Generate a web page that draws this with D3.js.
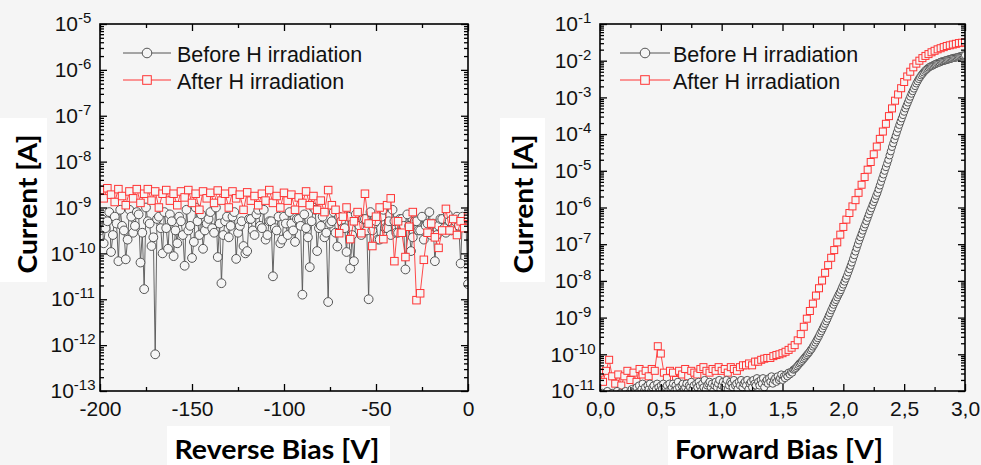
<!DOCTYPE html>
<html><head><meta charset="utf-8">
<script src="https://cdn.jsdelivr.net/npm/d3@7"></script>
<style>
html,body{margin:0;padding:0;background:#f5f5f5;}
svg{display:block;}
</style></head><body>
<svg id="chart" width="981" height="465"></svg>
<script>
// ---------------- DATA ----------------
const seriesNames = ["Before H irradiation", "After H irradiation"];

// Reverse bias sweeps (V) and log10 of current [A]
const revBiasBefore = d3.range(-200, 0.5, 1);
const revBeforeLog = [
  -9.5,-9.25,-9.78,-9.45,-9.3,-9.1,-9.97,-9.6,-9.2,-9.35,
  -10.17,-9.05,-9.4,-9.5,-10.13,-9.7,-9.05,-9.2,-9.55,-9.4,
  -9.1,-9.15,-10.2,-9.55,-10.78,-9.0,-9.3,-9.35,-9.84,-9.65,
  -12.2,-9.25,-9.2,-9.45,-10.0,-9.1,-9.45,-9.9,-9.15,-9.3,
  -10.06,-9.5,-9.78,-9.2,-9.3,-9.6,-10.27,-9.05,-9.5,-9.4,
  -10.1,-9.75,-9.0,-9.3,-9.6,-9.15,-9.9,-9.5,-9.35,-9.25,
  -9.1,-9.45,-9.55,-9.0,-10.08,-9.35,-10.65,-9.6,-9.3,-9.2,
  -9.65,-9.4,-9.2,-9.1,-10.12,-9.55,-9.4,-9.3,-9.84,-10.0,
  -9.95,-9.25,-9.25,-9.5,-9.6,-9.15,-9.05,-9.4,-9.45,-9.05,
  -9.7,-9.6,-9.3,-9.3,-10.5,-9.45,-9.5,-9.2,-9.78,-9.7,
  -9.2,-9.35,-9.6,-9.1,-9.35,-9.5,-9.75,-9.25,-9.25,-9.4,
  -10.9,-9.15,-9.45,-9.65,-10.3,-9.3,-9.0,-9.05,-9.95,-9.45,
  -9.4,-9.2,-9.65,-9.55,-11.06,-9.35,-9.3,-9.1,-9.55,-9.85,
  -9.2,-9.3,-9.45,-9.45,-9.97,-9.2,-10.33,-9.6,-10.17,-9.15,
  -9.35,-9.4,-9.6,-9.25,-9.25,-9.5,-11.0,-9.1,-9.5,-9.35,
  -9.3,-9.7,-9.7,-9.2,-9.05,-9.45,-9.45,-9.3,-9.6,-9.05,
  -9.3,-9.55,-9.55,-9.25,-9.25,-9.4,-10.35,-9.15,-9.4,-9.95,
  -9.65,-9.3,-9.3,-9.5,-9.5,-9.2,-9.7,-9.4,-9.35,-9.1,
  -9.6,-9.35,-10.17,-9.6,-9.4,-9.25,-9.25,-9.45,-9.55,-9.15,
  -9.3,-9.5,-9.45,-9.3,-9.2,-9.4,-10.22,-9.2,-9.35,-9.45,
  -10.67];
const revBiasAfter = d3.range(-200, 0.5, 2);
const revAfterLog = [
  -8.62,-8.8,-8.58,-8.72,-8.88,-8.6,-8.75,-8.95,-8.65,-8.8,
  -8.6,-8.9,-8.7,-8.6,-8.85,-8.65,-9.0,-8.7,-8.62,-8.85,
  -8.7,-8.95,-8.65,-8.78,-8.62,-8.9,-8.7,-9.05,-8.65,-8.8,
  -8.68,-8.9,-8.63,-8.85,-8.7,-9.0,-8.65,-8.8,-8.72,-9.05,
  -8.67,-8.85,-8.75,-8.95,-8.7,-8.85,-8.62,-8.9,-8.75,-9.0,
  -8.68,-8.85,-8.72,-9.05,-8.78,-8.9,-8.65,-8.95,-8.75,-9.05,
  -8.85,-9.1,-8.62,-8.95,-9.05,-9.56,-9.2,-9.0,-9.69,-9.3,
  -9.1,-9.56,-8.7,-9.35,-9.84,-9.2,-9.0,-9.69,-8.95,-8.8,
  -10.17,-9.3,-9.55,-10.08,-9.42,-9.1,-11.02,-10.87,-10.14,-9.55,
  -9.35,-9.65,-9.88,-9.5,-9.03,-9.5,-9.25,-9.6,-9.3,-9.45,
  -9.2];

// Forward bias sweeps (V) and log10 of current [A]
const fwdBiasBefore = d3.range(0, 3.0001, 0.01);
const fwdBeforeLog = [
  -11.1,-11.2,-11.05,-11.15,-11.25,-11.1,-11.0,-11.2,-11.1,-11.15,
  -11.05,-11.2,-11.1,-11.15,-11.0,-11.25,-11.1,-11.05,-11.2,-11.1,
  -11.15,-11.0,-11.1,-11.2,-11.05,-11.1,-10.95,-11.15,-11.05,-11.0,
  -10.9,-11.05,-10.85,-11.1,-10.95,-10.8,-11.0,-10.9,-11.05,-10.85,
  -10.95,-10.8,-11.0,-10.9,-10.85,-11.05,-10.95,-10.8,-10.9,-11.0,
  -10.85,-10.95,-10.8,-11.05,-10.9,-10.85,-11.0,-10.8,-10.95,-10.9,
  -10.8,-11.0,-10.85,-10.95,-10.75,-10.9,-11.05,-10.85,-10.8,-10.95,
  -10.9,-10.8,-11.0,-10.85,-10.9,-10.75,-10.95,-10.85,-11.0,-10.8,
  -10.9,-10.75,-10.85,-11.0,-10.8,-10.9,-10.7,-10.95,-10.85,-10.8,
  -10.75,-10.9,-10.8,-11.0,-10.85,-10.75,-10.9,-10.8,-10.7,-10.95,
  -10.85,-10.75,-10.9,-10.8,-10.7,-10.95,-10.85,-10.75,-10.8,-10.9,
  -10.7,-10.85,-10.8,-10.95,-10.75,-10.85,-10.7,-10.9,-10.8,-10.75,
  -10.85,-10.7,-10.95,-10.8,-10.75,-10.9,-10.7,-10.8,-10.85,-10.65,
  -10.75,-10.85,-10.7,-10.8,-10.65,-10.9,-10.75,-10.7,-10.8,-10.65,
  -10.75,-10.6,-10.8,-10.7,-10.65,-10.75,-10.6,-10.7,-10.65,-10.55,
  -10.7,-10.6,-10.65,-10.55,-10.6,-10.5,-10.55,-10.48,-10.5,-10.42,
  -10.4,-10.37,-10.33,-10.29,-10.25,-10.22,-10.18,-10.14,-10.1,-10.06,
  -10.02,-9.98,-9.94,-9.89,-9.85,-9.79,-9.74,-9.68,-9.62,-9.56,
  -9.5,-9.43,-9.37,-9.3,-9.23,-9.17,-9.1,-9.03,-8.95,-8.88,
  -8.8,-8.73,-8.65,-8.58,-8.52,-8.45,-8.38,-8.32,-8.25,-8.17,
  -8.1,-8.02,-7.94,-7.86,-7.77,-7.68,-7.59,-7.5,-7.4,-7.3,
  -7.2,-7.1,-7.0,-6.9,-6.81,-6.72,-6.63,-6.54,-6.46,-6.37,
  -6.28,-6.19,-6.1,-6.02,-5.93,-5.85,-5.77,-5.68,-5.6,-5.5,
  -5.4,-5.3,-5.2,-5.1,-5.0,-4.9,-4.8,-4.7,-4.58,-4.47,
  -4.35,-4.25,-4.15,-4.05,-3.95,-3.85,-3.75,-3.66,-3.57,-3.48,
  -3.39,-3.3,-3.22,-3.14,-3.06,-2.98,-2.9,-2.83,-2.76,-2.69,
  -2.62,-2.56,-2.5,-2.45,-2.4,-2.36,-2.32,-2.28,-2.25,-2.22,
  -2.19,-2.17,-2.15,-2.14,-2.12,-2.1,-2.09,-2.07,-2.06,-2.05,
  -2.03,-2.02,-2.01,-2.0,-1.99,-1.98,-1.97,-1.96,-1.95,-1.94,
  -1.93,-1.92,-1.92,-1.91,-1.9,-1.89,-1.88,-1.87,-1.86,-1.86,
  -1.85];
const fwdBiasAfter = d3.range(0, 3.0001, 0.025);
const fwdAfterLog = [
  -10.5,-10.75,-10.45,-10.15,-10.6,-10.8,-10.55,-10.85,
  -10.6,-10.45,-10.7,-10.5,-10.75,-10.4,-10.55,-10.45,
  -10.6,-10.4,-10.45,-9.78,-9.98,-10.5,-10.65,-10.45,
  -10.5,-10.7,-10.45,-10.55,-10.4,-10.6,-10.45,-10.5,
  -10.55,-10.4,-10.35,-10.45,-10.5,-10.4,-10.45,-10.35,
  -10.45,-10.4,-10.5,-10.35,-10.4,-10.45,-10.35,-10.3,
  -10.3,-10.25,-10.3,-10.2,-10.2,-10.15,-10.12,-10.1,
  -10.1,-10.05,-10.02,-10.0,-9.97,-9.93,-9.88,-9.82,
  -9.75,-9.62,-9.45,-9.25,-9.03,-8.82,-8.62,-8.4,
  -8.2,-7.99,-7.78,-7.57,-7.37,-7.16,-6.95,-6.74,
  -6.53,-6.33,-6.15,-5.97,-5.8,-5.6,-5.38,-5.17,
  -4.97,-4.76,-4.55,-4.34,-4.13,-3.93,-3.72,-3.51,
  -3.3,-3.09,-2.92,-2.75,-2.58,-2.43,-2.3,-2.18,
  -2.08,-2.0,-1.93,-1.87,-1.82,-1.77,-1.73,-1.69,
  -1.66,-1.63,-1.6,-1.58,-1.56,-1.54,-1.52,-1.51,
  -1.5];

// Tick values / labels
const revTicks = [-200, -150, -100, -50, 0];
const revTickLabels = ["-200", "-150", "-100", "-50", "0"];
const revMinorTicks = [-175, -125, -75, -25];
const revDecades = [-13, -12, -11, -10, -9, -8, -7, -6, -5];
const fwdTicks = [0, 0.5, 1, 1.5, 2, 2.5, 3];
const fwdTickLabels = ["0,0", "0,5", "1,0", "1,5", "2,0", "2,5", "3,0"];
const fwdMinorTicks = [0.25, 0.75, 1.25, 1.75, 2.25, 2.75];
const fwdDecades = [-11, -10, -9, -8, -7, -6, -5, -4, -3, -2, -1];

// ---------------- DRAWING ----------------
const BG = "#f5f5f5";
const GRAY = "#555555";
const RED = "#ff3535";
const svg = d3.select("#chart");
svg.append("rect").attr("width", 981).attr("height", 465).attr("fill", BG);

function drawPanel(cfg) {
  const {x0, x1, y0, y1} = cfg;
  const x = d3.scaleLinear().domain(cfg.xDomain).range([x0, x1]);
  const y = d3.scaleLog()
    .domain([Math.pow(10, cfg.decades[0]), Math.pow(10, cfg.decades[cfg.decades.length - 1])])
    .range([y1, y0]);
  const g = svg.append("g");

  cfg.boxes.forEach(b => g.append("rect").attr("x", b[0]).attr("y", b[1])
    .attr("width", b[2]).attr("height", b[3]).attr("fill", "#ffffff"));

  const clipId = "clip-" + cfg.id;
  svg.append("clipPath").attr("id", clipId).append("rect")
    .attr("x", x0).attr("y", y0).attr("width", x1 - x0).attr("height", y1 - y0);
  const plot = g.append("g").attr("clip-path", `url(#${clipId})`);

  function drawSeries(xs, logs, st) {
    const data = xs.map((v, i) => ({v: v, I: Math.pow(10, logs[i])}));
    plot.append("path").datum(data)
      .attr("d", d3.line().x(d => x(d.v)).y(d => y(d.I)))
      .attr("fill", "none").attr("stroke", st.color).attr("stroke-width", 0.9);
    if (st.shape === "circle") {
      plot.append("g").selectAll("circle").data(data).join("circle")
        .attr("cx", d => x(d.v)).attr("cy", d => y(d.I)).attr("r", st.size)
        .attr("fill", BG).attr("stroke", st.color).attr("stroke-width", 1);
    } else {
      plot.append("g").selectAll("rect").data(data).join("rect")
        .attr("x", d => x(d.v) - st.size / 2).attr("y", d => y(d.I) - st.size / 2)
        .attr("width", st.size).attr("height", st.size)
        .attr("fill", BG).attr("stroke", st.color).attr("stroke-width", 1);
    }
  }
  cfg.order.forEach(k => {
    if (k === 0) drawSeries(cfg.xsBefore, cfg.before, {shape: "circle", color: GRAY, size: cfg.r});
    else drawSeries(cfg.xsAfter, cfg.after, {shape: "square", color: RED, size: cfg.sq});
  });

  const majorY = cfg.decades.map(e => Math.pow(10, e));
  const minorY = [];
  for (let k = 0; k < cfg.decades.length - 1; k++)
    for (let m = 2; m <= 9; m++) minorY.push(m * Math.pow(10, cfg.decades[k]));

  const style = sel => {
    sel.select(".domain").remove();
    sel.selectAll("line").attr("stroke", "#000").attr("stroke-width", 1.3);
    sel.attr("font-family", "'Liberation Sans', Arial, sans-serif").attr("font-size", 21).attr("color", "#111");
  };

  const gl = g.append("g").attr("transform", `translate(${x0},0)`)
    .call(d3.axisLeft(y).tickValues(majorY).tickSize(-7).tickPadding(27).tickFormat(d => d))
    .call(style);
  gl.selectAll("text").attr("text-anchor", "middle").each(function(d) {
    const e = Math.round(Math.log10(d));
    const t = d3.select(this).text(null);
    t.append("tspan").text("10");
    t.append("tspan").attr("dy", -8).attr("font-size", "15px").text(String(e));
  });
  g.append("g").attr("transform", `translate(${x0},0)`)
    .call(d3.axisLeft(y).tickValues(minorY).tickSize(-4).tickFormat("")).call(style);
  g.append("g").attr("transform", `translate(${x1},0)`)
    .call(d3.axisRight(y).tickValues(majorY).tickSize(-7).tickFormat("")).call(style);
  g.append("g").attr("transform", `translate(${x1},0)`)
    .call(d3.axisRight(y).tickValues(minorY).tickSize(-4).tickFormat("")).call(style);
  g.append("g").attr("transform", `translate(0,${y1})`)
    .call(d3.axisBottom(x).tickValues(cfg.xTicks).tickSize(-7).tickPadding(10)
      .tickFormat((d, i) => cfg.xLabels[i])).call(style);
  g.append("g").attr("transform", `translate(0,${y1})`)
    .call(d3.axisBottom(x).tickValues(cfg.xMinor).tickSize(-4).tickFormat("")).call(style);
  g.append("g").attr("transform", `translate(0,${y0})`)
    .call(d3.axisTop(x).tickValues(cfg.xTicks).tickSize(-7).tickFormat("")).call(style);
  g.append("g").attr("transform", `translate(0,${y0})`)
    .call(d3.axisTop(x).tickValues(cfg.xMinor).tickSize(-4).tickFormat("")).call(style);

  g.append("rect").attr("x", x0).attr("y", y0).attr("width", x1 - x0).attr("height", y1 - y0)
    .attr("fill", "none").attr("stroke", "#000").attr("stroke-width", 1.6);

  const L = cfg.legend;
  seriesNames.forEach((name, i) => {
    const ly = L.ys[i];
    const col = i === 0 ? GRAY : RED;
    g.append("line").attr("x1", L.lx0).attr("x2", L.lx1).attr("y1", ly).attr("y2", ly)
      .attr("stroke", col).attr("stroke-width", 1);
    const mx = (L.lx0 + L.lx1) / 2;
    if (i === 0) {
      g.append("circle").attr("cx", mx).attr("cy", ly).attr("r", 4.8)
        .attr("fill", BG).attr("stroke", col).attr("stroke-width", 1);
    } else {
      g.append("rect").attr("x", mx - 4.3).attr("y", ly - 4.3).attr("width", 8.6).attr("height", 8.6)
        .attr("fill", BG).attr("stroke", col).attr("stroke-width", 1);
    }
    g.append("text").attr("x", L.tx).attr("y", ly + 8.5).text(name)
      .attr("font-family", "'Liberation Sans', Arial, sans-serif").attr("font-size", "21.5px")
      .attr("fill", "#111");
  });

  g.append("text").attr("x", cfg.xTitle[0]).attr("y", cfg.xTitle[1]).attr("text-anchor", "middle")
    .attr("font-family", "Lato, 'Open Sans', sans-serif").attr("font-weight", "bold").attr("font-size", "27px")
    .attr("textLength", cfg.xTitle[2]).attr("lengthAdjust", "spacingAndGlyphs")
    .attr("fill", "#000").text(cfg.xTitleText);
  g.append("text").attr("transform", `translate(${cfg.yTitle[0]},${cfg.yTitle[1]}) rotate(-90)`)
    .attr("text-anchor", "middle")
    .attr("font-family", "Lato, 'Open Sans', sans-serif").attr("font-weight", "bold").attr("font-size", "27px")
    .attr("textLength", cfg.yTitle[2]).attr("lengthAdjust", "spacingAndGlyphs")
    .attr("fill", "#000").text("Current [A]");
}

drawPanel({
  id: "rev", x0: 100, x1: 468, y0: 24, y1: 391,
  xDomain: [-200, 0], decades: revDecades,
  xTicks: revTicks, xLabels: revTickLabels, xMinor: revMinorTicks,
  xsBefore: revBiasBefore, before: revBeforeLog,
  xsAfter: revBiasAfter, after: revAfterLog,
  order: [0, 1], r: 4.4, sq: 7.5,
  boxes: [[0, 118, 47, 164], [167, 426, 223, 39]],
  legend: {lx0: 123, lx1: 171, tx: 177, ys: [53, 80]},
  xTitle: [277, 459, 205], xTitleText: "Reverse Bias [V]",
  yTitle: [37, 204, 139]
});

drawPanel({
  id: "fwd", x0: 600, x1: 965, y0: 24, y1: 391,
  xDomain: [0, 3], decades: fwdDecades,
  xTicks: fwdTicks, xLabels: fwdTickLabels, xMinor: fwdMinorTicks,
  xsBefore: fwdBiasBefore, before: fwdBeforeLog,
  xsAfter: fwdBiasAfter, after: fwdAfterLog,
  order: [1, 0], r: 3.6, sq: 7,
  boxes: [[500, 118, 45, 164], [668, 426, 225, 39]],
  legend: {lx0: 620, lx1: 670, tx: 673, ys: [53, 80]},
  xTitle: [779, 459, 208], xTitleText: "Forward Bias [V]",
  yTitle: [533, 204, 139]
});
</script>
</body></html>
